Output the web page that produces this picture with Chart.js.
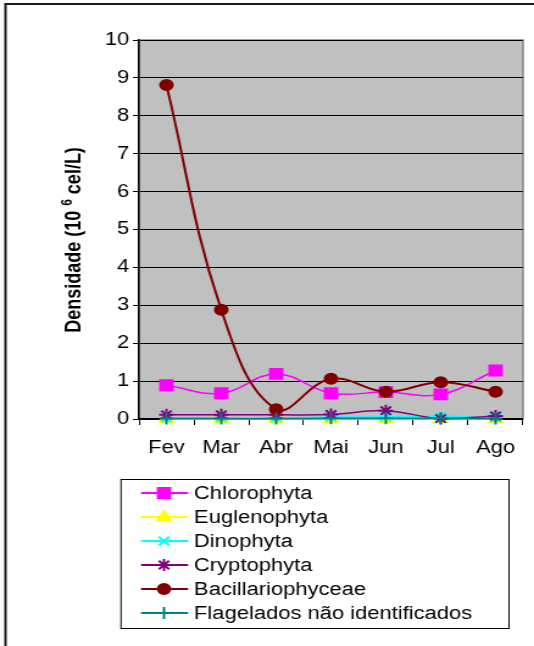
<!DOCTYPE html>
<html>
<head>
<meta charset="utf-8">
<script src="https://cdn.jsdelivr.net/npm/chart.js@4.4.1/dist/chart.umd.min.js"></script>
<style>
  html, body { margin: 0; padding: 0; background: #fff; }
  #wrap { position: relative; width: 534px; height: 646px; overflow: hidden; }
  /* a figura original está esticada na horizontal */
  #chart { width: 534px; height: 646px; }
</style>
</head>
<body>
<div id="wrap"><canvas id="chart" width="438" height="646" style="width:534px;height:646px"></canvas></div>
<script>
// ============================
// Dados
// ============================
const months = ['Fev', 'Mar', 'Abr', 'Mai', 'Jun', 'Jul', 'Ago'];
const chlorophyta = [0.89, 0.68, 1.19, 0.68, 0.71, 0.65, 1.28];
const euglenophyta = [0, 0, 0, 0, 0, 0, 0];
const dinophyta = [0.03, 0.03, 0.03, 0.05, 0.06, 0.07, 0.03];
const cryptophyta = [0.11, 0.11, 0.11, 0.12, 0.22, 0.01, 0.08];
const bacillariophyceae = [8.81, 2.88, 0.26, 1.06, 0.72, 0.97, 0.72];
const flagelados = [0.01, 0.01, 0.01, 0.02, 0.02, 0.02, 0.01];
const yMin = 0;
const yMax = 10;
const yStep = 1;

const FONT = '"Liberation Sans", Arial, sans-serif';
const SX = 534 / 438; // fator do esticamento horizontal
const px = v => v / SX;  // converte x da figura para x do canvas

// séries posteriores ficam por cima (como no Excel)
function serie(label, data, color, style, radius, width, order) {
  return {
    label: label,
    data: data,
    order: order,
    borderColor: color,
    backgroundColor: color,
    pointStyle: style,
    pointRadius: radius,
    pointHoverRadius: radius,
    pointBorderWidth: 2,
    borderWidth: width,
    tension: 0.4,
    clip: false,
    fill: false
  };
}

// ============================
// Fundo da área do gráfico e moldura
// ============================
const plotBg = {
  id: 'plotBg',
  beforeDraw(chart) {
    const { ctx, chartArea: a } = chart;
    ctx.save();
    ctx.fillStyle = '#c0c0c0';
    ctx.fillRect(a.left, a.top, a.right - a.left, a.bottom - a.top);
    ctx.strokeStyle = '#808080';
    ctx.lineWidth = 1.5;
    ctx.strokeRect(a.left, a.top, a.right - a.left, a.bottom - a.top);
    // moldura externa
    ctx.strokeStyle = '#1a1a1a';
    ctx.lineWidth = 2;
    ctx.beginPath();
    ctx.moveTo(px(5.5), 646);
    ctx.lineTo(px(5.5), 4);
    ctx.lineTo(chart.width, 4);
    ctx.stroke();
    ctx.restore();
  }
};

// ============================
// Título do eixo Y (com expoente) e legenda
// ============================
const extras = {
  id: 'extras',
  afterDraw(chart) {
    const ctx = chart.ctx;
    ctx.save();
    // título do eixo Y
    ctx.translate(px(75), 240);
    ctx.rotate(-Math.PI / 2);
    ctx.fillStyle = '#000';
    ctx.textBaseline = 'middle';
    const big = 'bold 18px ' + FONT;
    const small = 'bold 12px ' + FONT;
    const p1 = 'Densidade (10 ';
    const p2 = '6';
    const p3 = ' cel/L)';
    ctx.font = big;
    const w1 = ctx.measureText(p1).width;
    const w3 = ctx.measureText(p3).width;
    ctx.font = small;
    const w2 = ctx.measureText(p2).width;
    let x = -(w1 + w2 + w3) / 2;
    ctx.font = big;
    ctx.fillText(p1, x, 0);
    x += w1;
    ctx.font = small;
    ctx.fillText(p2, x, -6);
    x += w2;
    ctx.font = big;
    ctx.fillText(p3, x, 0);
    ctx.restore();

    // legenda
    ctx.save();
    ctx.strokeStyle = '#000';
    ctx.lineWidth = 1;
    ctx.strokeRect(px(121), 479.5, px(388), 149);
    ctx.font = '18px ' + FONT;
    ctx.textBaseline = 'middle';
    chart.data.datasets.forEach((ds, i) => {
      const y = 493 + i * 24;
      ctx.strokeStyle = ds.borderColor;
      ctx.lineWidth = 2;
      ctx.beginPath();
      ctx.moveTo(px(141), y);
      ctx.lineTo(px(188), y);
      ctx.stroke();
      ctx.fillStyle = ds.backgroundColor;
      ctx.lineWidth = 2;
      Chart.helpers.drawPoint(ctx, {
        pointStyle: ds.pointStyle,
        radius: ds.pointRadius,
        borderWidth: 2,
        rotation: 0
      }, px(164), y);
      ctx.fillStyle = '#000';
      ctx.fillText(ds.label, px(194), y + 1);
    });
    ctx.restore();
  }
};

// ============================
// Gráfico
// ============================
new Chart(document.getElementById('chart'), {
  type: 'line',
  data: {
    labels: months,
    datasets: [
      serie('Chlorophyta', chlorophyta, '#ff00ff', 'rect', 7, 1.5, 5),
      serie('Euglenophyta', euglenophyta, '#ffff00', 'triangle', 6, 1.5, 4),
      serie('Dinophyta', dinophyta, '#00ffff', 'crossRot', 6, 1.5, 3),
      serie('Cryptophyta', cryptophyta, '#800080', 'star', 6, 1.5, 2),
      serie('Bacillariophyceae', bacillariophyceae, '#800000', 'circle', 5, 2, 1),
      serie('Flagelados não identificados', flagelados, '#008080', 'cross', 6, 1.5, 0)
    ]
  },
  options: {
    responsive: false,
    animation: false,
    devicePixelRatio: 1,
    layout: { padding: { left: 0, top: 40, right: 438 - px(523), bottom: 0 } },
    plugins: {
      legend: { display: false },
      tooltip: { enabled: false }
    },
    scales: {
      x: {
        offset: true,
        grid: {
          offset: true,
          drawOnChartArea: false,
          drawTicks: true,
          tickLength: 6,
          color: '#000'
        },
        border: { color: '#000', width: 1.5 },
        ticks: {
          color: '#000',
          font: { family: FONT, size: 18 },
          padding: 12,
          maxRotation: 0
        },
        afterFit(scale) { scale.height = 227; }
      },
      y: {
        min: yMin,
        max: yMax,
        grid: {
          color: '#000',
          lineWidth: 1,
          tickLength: 5
        },
        border: { color: '#000', width: 1.5 },
        ticks: {
          stepSize: yStep,
          color: '#000',
          font: { family: FONT, size: 18 },
          padding: 3
        },
        afterFit(scale) { scale.width = px(139); }
      }
    }
  },
  plugins: [plotBg, extras]
});
</script>
</body>
</html>
